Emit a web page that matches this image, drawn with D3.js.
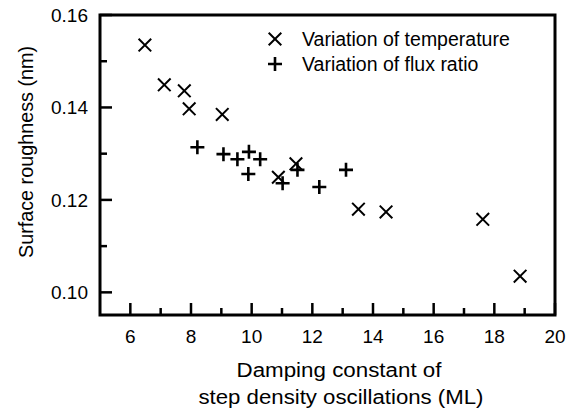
<!DOCTYPE html>
<html>
<head>
<meta charset="utf-8">
<script src="https://cdn.jsdelivr.net/npm/d3@7"></script>
<style>
  html, body { margin: 0; padding: 0; background: #fff; }
  svg text { font-family: "Liberation Sans", Arial, sans-serif; fill: #000; }
</style>
</head>
<body>
<svg id="chart" width="575" height="412"></svg>
<script>
// Surface roughness vs damping constant (two series)
const tempX = [6.48, 7.12, 7.78, 7.94, 9.03, 10.88, 11.46, 13.52, 14.43, 17.62, 18.85];
const tempY = [0.1535, 0.1449, 0.1436, 0.1397, 0.1385, 0.1249, 0.1278, 0.1180, 0.1174, 0.1158, 0.1035];

const fluxX = [8.21, 9.07, 9.53, 9.91, 10.28, 9.89, 11.02, 11.51, 12.23, 13.11];
const fluxY = [0.1314, 0.1299, 0.1288, 0.1304, 0.1288, 0.1256, 0.1236, 0.1265, 0.1228, 0.1265];

const xMajorTicks = [6, 8, 10, 12, 14, 16, 18, 20];
const xMinorTicks = [7, 9, 11, 13, 15, 17, 19];
const yMajorTicks = [0.10, 0.12, 0.14, 0.16];
const yMinorTicks = [0.11, 0.13, 0.15];

const legendLabels = ['Variation of temperature', 'Variation of flux ratio'];

const svg = d3.select('#chart');
const plotLeft = 100, plotRight = 555, plotTop = 15, plotBottom = 315;

const x = d3.scaleLinear().domain([5, 20]).range([plotLeft, plotRight]);
const y = d3.scaleLinear().domain([0.0951, 0.16]).range([plotBottom, plotTop]);

// ticks pointing inward
const ticks = svg.append('g').attr('stroke', '#000').attr('stroke-width', 2.5);
xMajorTicks.forEach(v => ticks.append('line').attr('x1', x(v)).attr('x2', x(v)).attr('y1', plotBottom).attr('y2', plotBottom - 12));
xMinorTicks.forEach(v => ticks.append('line').attr('x1', x(v)).attr('x2', x(v)).attr('y1', plotBottom).attr('y2', plotBottom - 7));
yMajorTicks.forEach(v => ticks.append('line').attr('x1', plotLeft).attr('x2', plotLeft + 12).attr('y1', y(v)).attr('y2', y(v)));
yMinorTicks.forEach(v => ticks.append('line').attr('x1', plotLeft).attr('x2', plotLeft + 7).attr('y1', y(v)).attr('y2', y(v)));

// frame
svg.append('rect')
  .attr('x', plotLeft).attr('y', plotTop)
  .attr('width', plotRight - plotLeft).attr('height', plotBottom - plotTop)
  .attr('fill', 'none').attr('stroke', '#000').attr('stroke-width', 3);

// tick labels
svg.append('g').selectAll('text').data(xMajorTicks).join('text')
  .attr('x', d => x(d)).attr('y', plotBottom + 28)
  .attr('text-anchor', 'middle').attr('font-size', '19px')
  .text(d => d);

svg.append('g').selectAll('text').data(yMajorTicks).join('text')
  .attr('x', plotLeft - 12).attr('y', d => y(d) + 7)
  .attr('text-anchor', 'end').attr('font-size', '19px')
  .text(d => d.toFixed(2));

// axis titles
svg.append('text').attr('x', 339).attr('y', 377)
  .attr('text-anchor', 'middle').attr('font-size', '20px')
  .attr('textLength', 205).attr('lengthAdjust', 'spacingAndGlyphs')
  .text('Damping constant of');
svg.append('text').attr('x', 341).attr('y', 404)
  .attr('text-anchor', 'middle').attr('font-size', '20px')
  .attr('textLength', 285).attr('lengthAdjust', 'spacingAndGlyphs')
  .text('step density oscillations (ML)');
svg.append('text')
  .attr('transform', 'translate(33,152) rotate(-90)')
  .attr('text-anchor', 'middle').attr('font-size', '20px')
  .attr('textLength', 212).attr('lengthAdjust', 'spacingAndGlyphs')
  .text('Surface roughness (nm)');

// markers
function cross(g, cx, cy, r) {
  g.append('path').attr('d', `M${cx - r},${cy - r}L${cx + r},${cy + r}M${cx - r},${cy + r}L${cx + r},${cy - r}`);
}
function plus(g, cx, cy, r) {
  g.append('path').attr('d', `M${cx - r},${cy}L${cx + r},${cy}M${cx},${cy - r}L${cx},${cy + r}`);
}

const tempG = svg.append('g').attr('stroke', '#000').attr('stroke-width', 2).attr('fill', 'none');
tempX.forEach((v, i) => cross(tempG, x(v), y(tempY[i]), 6.3));

const fluxG = svg.append('g').attr('stroke', '#000').attr('stroke-width', 2.6).attr('fill', 'none');
fluxX.forEach((v, i) => plus(fluxG, x(v), y(fluxY[i]), 7));

// legend
const legG = svg.append('g').attr('stroke', '#000').attr('fill', 'none');
cross(legG.append('g').attr('stroke-width', 2), 275, 39, 6.3);
plus(legG.append('g').attr('stroke-width', 2.6), 275, 64, 7);
svg.append('g').selectAll('text').data(legendLabels).join('text')
  .attr('x', 302).attr('y', (d, i) => 45.5 + i * 25)
  .attr('font-size', '19.5px')
  .text(d => d);
</script>
</body>
</html>
